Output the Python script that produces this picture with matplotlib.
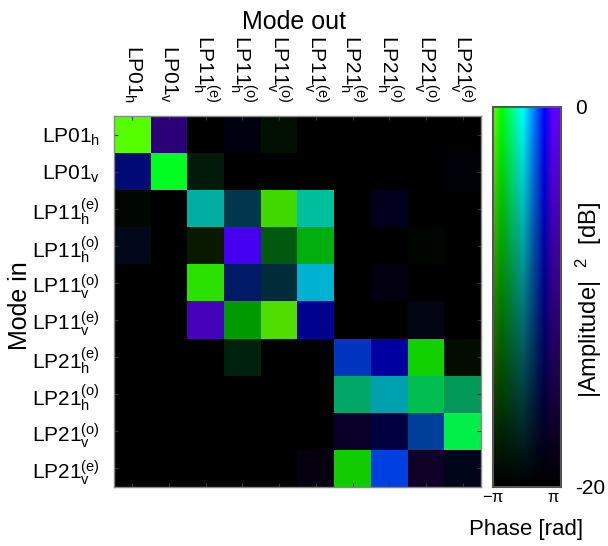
import numpy as np
import matplotlib
matplotlib.use("Agg")
import matplotlib.pyplot as plt
from matplotlib.colors import hsv_to_rgb

plt.rcParams['font.family'] = ['Liberation Sans', 'DejaVu Sans']
plt.rcParams['mathtext.default'] = 'regular'

modes = [r"LP01$_h$", r"LP01$_v$",
         r"LP11$_h^{(e)}$", r"LP11$_h^{(o)}$", r"LP11$_v^{(o)}$", r"LP11$_v^{(e)}$",
         r"LP21$_h^{(e)}$", r"LP21$_h^{(o)}$", r"LP21$_v^{(o)}$", r"LP21$_v^{(e)}$"]

# |Amplitude|^2 in dB (rows: mode in, cols: mode out)
amp_db = [
    [0.0, -10.6, -20, -18.8, -18.8, -20, -20, -20, -20, -20],
    [-10.6, 0.0, -18.0, -20, -20, -20, -20, -20, -20, -19.4],
    [-19.4, -20, -6.2, -13.8, -3.0, -5.0, -20, -17.6, -20, -20],
    [-18.0, -20, -18.0, -1.2, -13.0, -6.2, -20, -20, -19.6, -20],
    [-20, -20, -2.4, -11.8, -15.6, -3.6, -20, -18.8, -20, -20],
    [-20, -20, -5.4, -8.0, -2.6, -8.8, -20, -20, -18.6, -20],
    [-20, -20, -20, -17.4, -20, -20, -5.0, -7.4, -3.6, -19.0],
    [-20, -20, -20, -20, -20, -20, -6.8, -6.2, -5.0, -8.0],
    [-20, -20, -20, -20, -20, -20, -16.8, -15.0, -8.0, -1.2],
    [-20, -20, -20, -20, -20, -18.8, -4.0, -2.4, -16.8, -18.0],
]
# phase in rad
phase = [
    [-3.03, 3.10, 0, 2.08, -2.27, 0, 0, 0, 0, 0],
    [2.08, -1.97, -1.51, 0, 0, 0, 0, 0, 0, 2.27],
    [-2.27, 0, -0.19, 0.68, -2.95, -0.38, 0, 2.27, 0, 0],
    [1.52, 0, -3.03, 2.95, -1.89, -2.08, 0, 0, -2.0, 0],
    [0, 0, -2.69, 1.70, 0.49, 0.34, 0, 2.84, 0, 0],
    [0, 0, 3.14, -2.27, -3.10, 2.27, 0, 0, 1.52, 0],
    [0, 0, 0, -1.51, 0, 0, 1.63, 2.27, -2.46, -3.03],
    [0, 0, 0, 0, 0, 0, -0.87, 0.19, -1.32, -0.95],
    [0, 0, 0, 0, 0, 0, 2.73, 2.27, 1.33, -1.59],
    [0, 0, 0, 0, 0, 3.00, -2.46, 1.63, 3.14, 1.82],
]

H0, H1 = 97 / 360, 263 / 360


def to_rgb(ph, db):
    ph = np.clip(np.asarray(ph, float), -np.pi, np.pi)
    db = np.clip(np.asarray(db, float), -20, 0)
    h = H0 + (ph + np.pi) / (2 * np.pi) * (H1 - H0)
    v = (db + 20) / 20
    hsv = np.stack([h, np.ones_like(h), v], axis=-1)
    return hsv_to_rgb(hsv)


W, Hh = 608, 546
fig = plt.figure(figsize=(W / 100, Hh / 100), dpi=100)

ax = fig.add_axes([114 / W, 1 - 487 / Hh, 367 / W, 371 / Hh])
n = len(modes)
ax.imshow(to_rgb(phase, amp_db), aspect='auto', interpolation='nearest',
          extent=[-0.5, n - 0.5, n - 0.5, -0.5])
ax.set_xlim(-0.5, n - 0.5)
ax.set_ylim(n - 0.5, -0.5)
ax.set_xticks(range(n))
ax.set_yticks(range(n))
ax.set_xticklabels(modes, rotation=-90, fontsize=15)
ax.set_yticklabels(modes, fontsize=15)
ax.tick_params(axis='x', which='both', top=True, bottom=True, labeltop=True,
               labelbottom=False, direction='in', length=3, color='#333333', pad=9.5)
ax.tick_params(axis='y', which='both', left=True, right=True, direction='in',
               length=3, color='#333333', pad=10)
for t in ax.get_xticklabels():
    t.set_ha('center')
    t.set_va('bottom')
for s in ax.spines.values():
    s.set_color('#888888')
    s.set_linewidth(1.0)

fig.text(294 / W, 1 - 22 / Hh, 'Mode out', ha='center', va='center', fontsize=18)
fig.text(20 / W, 1 - 306 / Hh, 'Mode in', ha='center', va='center', fontsize=18,
         rotation=90)

# 2D colour key
cax = fig.add_axes([493 / W, 1 - 487 / Hh, 68 / W, 380 / Hh])
ph_max = -np.pi + 2 * np.pi * 68 / 60
pg = np.linspace(-np.pi, ph_max, 200)
dg = np.linspace(0, -20, 200)
PG, DG = np.meshgrid(pg, dg)
cax.imshow(to_rgb(PG, DG), aspect='auto', extent=[-np.pi, ph_max, -20, 0],
           interpolation='bilinear')
cax.set_xlim(-np.pi, ph_max)
cax.set_ylim(-20, 0)
cax.set_xticks([-np.pi, np.pi])
cax.set_xticklabels([r'$-\pi$', r'$\pi$'])
for t in cax.get_xticklabels():
    t.set_math_fontfamily('stix')
    t.set_fontsize(12)
cax.set_yticks([-20, 0])
cax.set_yticklabels(['-20', '0'], fontsize=15)
cax.yaxis.tick_right()
cax.tick_params(axis='y', length=0, pad=10)
cax.tick_params(axis='x', length=0, pad=2)
for s in cax.spines.values():
    s.set_color('#555555')
    s.set_linewidth(1.5)

fig.text(589 / W, 1 - 300 / Hh, '|Amplitude|  $^{2}$  [dB]', ha='center',
         va='center', rotation=90, fontsize=17)
fig.text(526 / W, 1 - 530 / Hh, 'Phase [rad]', ha='center', va='center',
         fontsize=16)

fig.savefig('out.png', dpi=100)
